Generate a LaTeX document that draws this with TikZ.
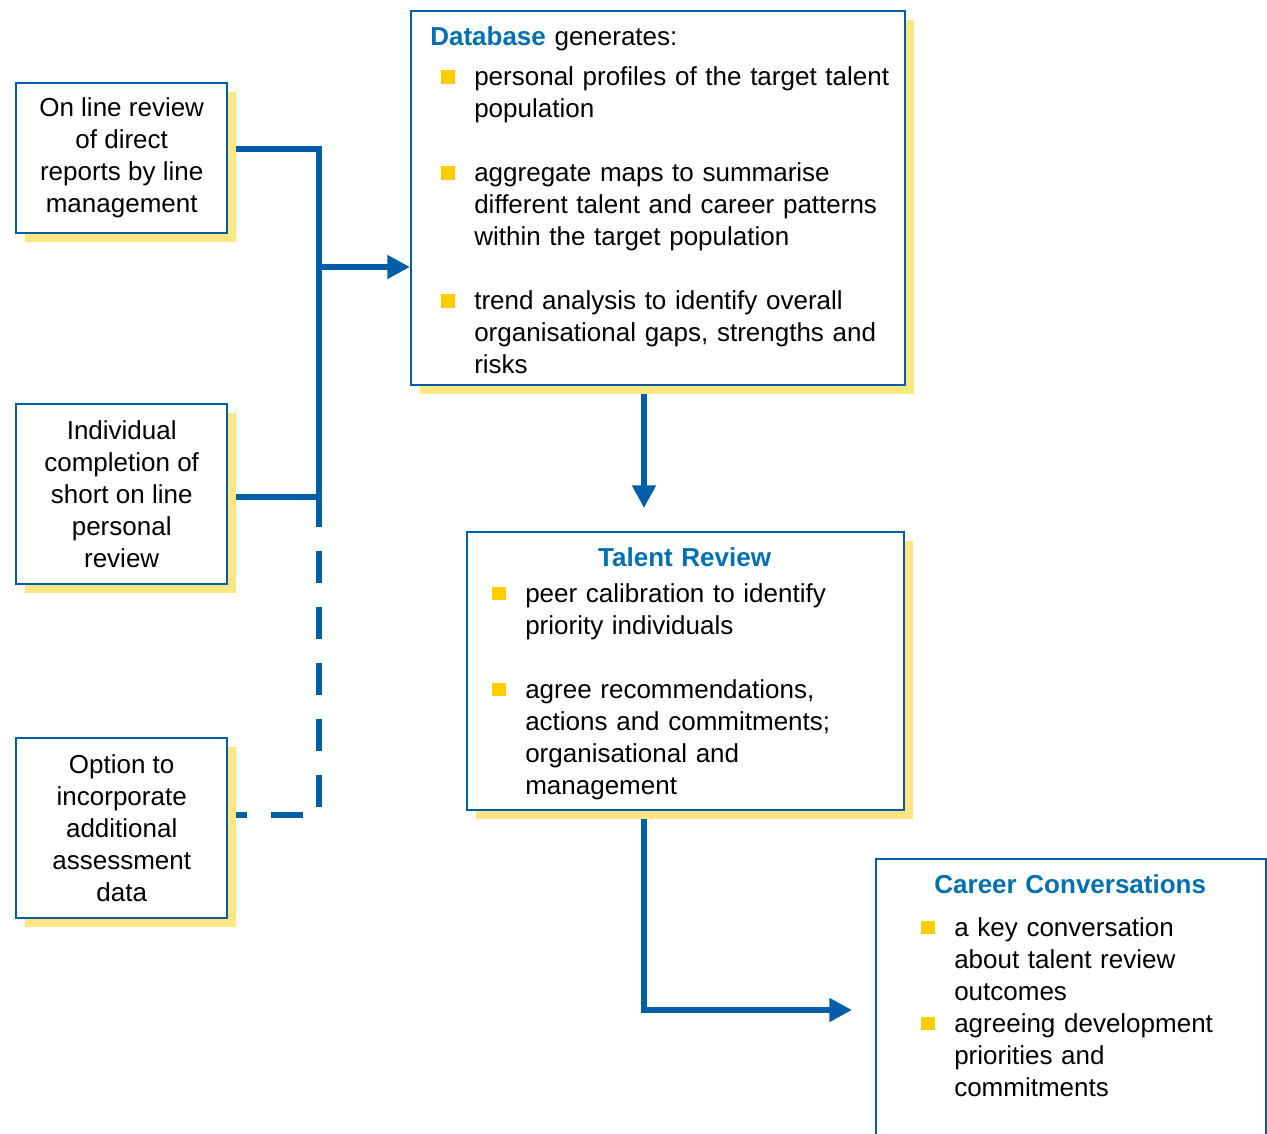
\documentclass[tikz,border=0pt]{standalone}
\usepackage{fontspec}
\setmainfont{Liberation Sans}
\usetikzlibrary{arrows.meta,shadows,positioning}

\definecolor{flowblue}{HTML}{005DA8}
\definecolor{headblue}{HTML}{0070B0}
\definecolor{shadeyellow}{HTML}{FFE681}
\definecolor{bulletyellow}{HTML}{FFCC00}

\pgfdeclarelayer{background}
\pgfsetlayers{background,main}

\newcommand{\bodyfont}{\fontsize{19.5}{24}\selectfont}
\newcommand{\nl}{\hfil\break}
\newcommand{\sqmark}{\textcolor{bulletyellow}{\rule{10pt}{10pt}}}
\newcommand{\bitem}[1]{\par\hangindent=33pt\hangafter=1\noindent%
  \makebox[33pt][l]{\hspace{8.25pt}\raisebox{1.5pt}{\sqmark}}#1\par}

\tikzset{
    box/.style={
           rectangle,
           draw=flowblue, line width=1.8pt,
           fill=white,
           drop shadow={shadow xshift=6.5pt, shadow yshift=-6.5pt,
                        fill=shadeyellow, opacity=1},
           anchor=north west,
           inner sep=0pt,
           },
    sidebox/.style={box, align=center, minimum width=158.25pt, font=\bodyfont},
    listtext/.style={inner sep=0pt, font=\bodyfont},
    flow/.style={draw=flowblue, line width=4.25pt},
    dashedflow/.style={flow, dash pattern=on 24pt off 18pt, dash phase=24pt},
    arrowflow/.style={flow, -{Triangle[width=17pt,length=17pt]}},
}

\begin{document}
\begin{tikzpicture}[x=0.75pt,y=-0.75pt]
 \useasboundingbox (0,0) rectangle (1267,1134);

 % left column: the three inputs
 \node[sidebox, minimum height=112.5pt] (online) at (15,82)
  {On line review\\of direct\\reports by line\\management};
 \node[sidebox, minimum height=135pt] (individual) at (15,403)
  {Individual\\completion of\\short on line\\personal\\review};
 \node[sidebox, minimum height=135pt] (option) at (15,737)
  {Option to\\incorporate\\additional\\assessment\\data};

 % Database box, list placed from its top left corner
 \node[box, minimum width=370.5pt, minimum height=280.5pt] (db) at (410,10) {};
 \node[listtext,
  text width=350pt,
  below right=12.5pt and 15pt of db.north west] (db text)
 {{\color{headblue}\bfseries Database} generates:\par
  \vspace{6pt}
  \bitem{personal profiles of the target talent\nl population}
  \vspace{24pt}
  \bitem{aggregate maps to summarise\nl different talent and career patterns\nl within the target population}
  \vspace{24pt}
  \bitem{trend analysis to identify overall\nl organisational gaps, strengths and\nl risks}};

 % Talent Review
 \node[box, minimum width=327.75pt, minimum height=208.5pt] (review) at (466,531) {};
 \node[listtext,
  text width=305pt,
  below right=12pt and 11.25pt of review.north west] (review text)
 {{\centering\color{headblue}\bfseries Talent Review\par}
  \vspace{3pt}
  \bitem{peer calibration to identify\nl priority individuals}
  \vspace{24pt}
  \bitem{agree recommendations,\nl actions and commitments;\nl organisational and\nl management}};

 % Career Conversations (runs off the page)
 \node[box, minimum width=292.5pt, minimum height=225pt] (career) at (875,858) {};
 \node[listtext,
  text width=240pt,
  below right=12pt and 26.25pt of career.north west] (career text)
 {{\centering\color{headblue}\bfseries Career Conversations\par}
  \vspace{8.25pt}
  \bitem{a key conversation\nl about talent review\nl outcomes}
  \bitem{agreeing development\nl priorities and\nl commitments}};

 % bends of the connectors
 \coordinate (bus top) at (319,149);
 \coordinate (bus arrow) at (319,267);
 \coordinate (bus mid) at (319,497);
 \coordinate (bus end) at (319,527);
 \coordinate (bus low) at (319,815);
 \coordinate (review in) at (644,508);
 \coordinate (career in) at (852,1010);

 % draw the connectors behind the boxes
 \begin{pgfonlayer}{background}
 \draw[flow] (online.east |- bus top) -- (bus top) -- (bus end);
 \draw[flow] (individual.east |- bus mid) -- (bus mid);
 \draw[dashedflow] (bus end) |- (option.east |- bus low);
 \draw[arrowflow] (bus arrow) -- (bus arrow -| db.west);
 \draw[arrowflow] (db.south -| review in) -- (review in);
 \draw[arrowflow] (review.south -| review in) |- (career in);
 \end{pgfonlayer}

\end{tikzpicture}
\end{document}
